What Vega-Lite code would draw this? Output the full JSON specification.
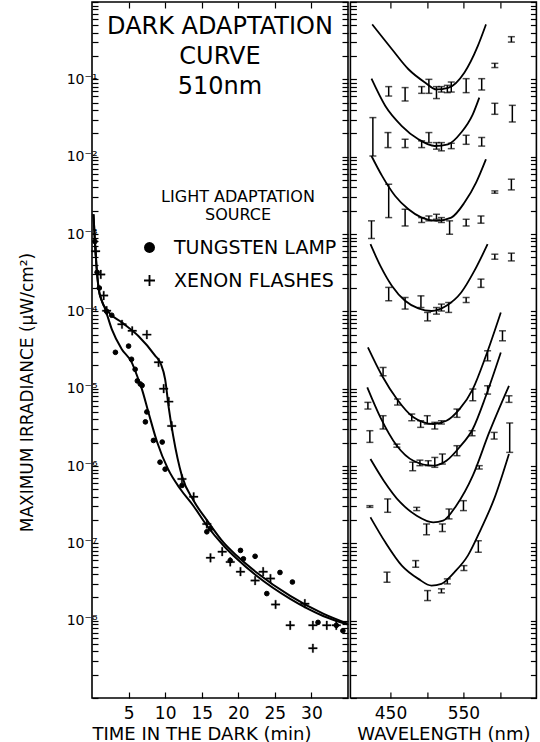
{
  "$schema": "https://vega.github.io/schema/vega-lite/v6.json",
  "background": "white",
  "padding": {"left": 17, "top": 0, "right": 0, "bottom": 0},
  "spacing": -1.6,
  "config": {
    "font": "DejaVu Sans",
    "view": {"stroke": "black", "strokeWidth": 1.6},
    "axis": {"domain": false, "grid": false, "tickColor": "black", "tickWidth": 1.2, "tickSize": -6, "labelColor": "black", "titleColor": "black", "labelFont": "DejaVu Sans", "titleFont": "DejaVu Sans", "titleFontWeight": "normal", "minExtent": 0}
  },
  "datasets": {
    "darkCurves": [
      {"series": "tungsten", "t": 0.2, "v": 1.8e-3}, {"series": "tungsten", "t": 0.4, "v": 8e-4}, {"series": "tungsten", "t": 0.6, "v": 4e-4}, {"series": "tungsten", "t": 0.9, "v": 2e-4}, {"series": "tungsten", "t": 1.3, "v": 1.4e-4}, {"series": "tungsten", "t": 1.8, "v": 1.07e-4}, {"series": "tungsten", "t": 2.7, "v": 5.9e-5}, {"series": "tungsten", "t": 4.07, "v": 3.24e-5}, {"series": "tungsten", "t": 5.43, "v": 2.19e-5}, {"series": "tungsten", "t": 6.34, "v": 1.32e-5}, {"series": "tungsten", "t": 6.8, "v": 1.0e-5}, {"series": "tungsten", "t": 7.7, "v": 5.0e-6}, {"series": "tungsten", "t": 8.9, "v": 2.04e-6}, {"series": "tungsten", "t": 10.4, "v": 9.1e-7}, {"series": "tungsten", "t": 12.1, "v": 5.0e-7}, {"series": "tungsten", "t": 13.9, "v": 3.02e-7}, {"series": "tungsten", "t": 15.7, "v": 1.7e-7}, {"series": "tungsten", "t": 18.0, "v": 9.3e-8}, {"series": "tungsten", "t": 19.8, "v": 6.3e-8}, {"series": "tungsten", "t": 22.5, "v": 3.8e-8}, {"series": "tungsten", "t": 27.1, "v": 1.91e-8}, {"series": "tungsten", "t": 31.6, "v": 1.15e-8}, {"series": "tungsten", "t": 35, "v": 8.9e-9},
      {"series": "xenon", "t": 0.2, "v": 1.8e-3}, {"series": "xenon", "t": 0.4, "v": 8e-4}, {"series": "xenon", "t": 0.6, "v": 4e-4}, {"series": "xenon", "t": 0.9, "v": 2e-4}, {"series": "xenon", "t": 1.3, "v": 1.4e-4}, {"series": "xenon", "t": 2.25, "v": 9.8e-5}, {"series": "xenon", "t": 4.07, "v": 7.2e-5}, {"series": "xenon", "t": 6.34, "v": 4.8e-5}, {"series": "xenon", "t": 8.6, "v": 2.7e-5}, {"series": "xenon", "t": 9.4, "v": 2.1e-5}, {"series": "xenon", "t": 10.0, "v": 1.32e-5}, {"series": "xenon", "t": 10.5, "v": 5.6e-6}, {"series": "xenon", "t": 11.1, "v": 2.45e-6}, {"series": "xenon", "t": 12.3, "v": 7.4e-7}, {"series": "xenon", "t": 13.9, "v": 3.55e-7}, {"series": "xenon", "t": 15.7, "v": 2.0e-7}, {"series": "xenon", "t": 18.0, "v": 1.02e-7}, {"series": "xenon", "t": 19.8, "v": 6.9e-8}, {"series": "xenon", "t": 22.5, "v": 4.2e-8}, {"series": "xenon", "t": 27.1, "v": 2.09e-8}, {"series": "xenon", "t": 31.6, "v": 1.23e-8}, {"series": "xenon", "t": 35, "v": 9.1e-9}
    ],
    "darkPoints": [
      {"source": "TUNGSTEN LAMP", "t": 0.4, "v": 8e-4}, {"source": "TUNGSTEN LAMP", "t": 0.7, "v": 3.2e-4}, {"source": "TUNGSTEN LAMP", "t": 1.0, "v": 2.0e-4}, {"source": "TUNGSTEN LAMP", "t": 2.0, "v": 1.0e-4}, {"source": "TUNGSTEN LAMP", "t": 2.7, "v": 8.9e-5}, {"source": "TUNGSTEN LAMP", "t": 3.2, "v": 2.95e-5}, {"source": "TUNGSTEN LAMP", "t": 5.0, "v": 3.55e-5}, {"source": "TUNGSTEN LAMP", "t": 5.4, "v": 2.4e-5}, {"source": "TUNGSTEN LAMP", "t": 5.9, "v": 1.78e-5}, {"source": "TUNGSTEN LAMP", "t": 6.2, "v": 1.26e-5}, {"source": "TUNGSTEN LAMP", "t": 6.6, "v": 1.15e-5}, {"source": "TUNGSTEN LAMP", "t": 6.85, "v": 1.1e-5}, {"source": "TUNGSTEN LAMP", "t": 7.5, "v": 5.0e-6}, {"source": "TUNGSTEN LAMP", "t": 7.3, "v": 3.72e-6}, {"source": "TUNGSTEN LAMP", "t": 8.4, "v": 2.14e-6}, {"source": "TUNGSTEN LAMP", "t": 9.6, "v": 2.04e-6}, {"source": "TUNGSTEN LAMP", "t": 9.3, "v": 1.12e-6}, {"source": "TUNGSTEN LAMP", "t": 10.0, "v": 9.1e-7}, {"source": "TUNGSTEN LAMP", "t": 12.3, "v": 5.6e-7}, {"source": "TUNGSTEN LAMP", "t": 15.7, "v": 1.41e-7}, {"source": "TUNGSTEN LAMP", "t": 16.2, "v": 1.55e-7}, {"source": "TUNGSTEN LAMP", "t": 18.9, "v": 6.0e-8}, {"source": "TUNGSTEN LAMP", "t": 20.3, "v": 8.1e-8}, {"source": "TUNGSTEN LAMP", "t": 20.7, "v": 6.3e-8}, {"source": "TUNGSTEN LAMP", "t": 22.3, "v": 6.8e-8}, {"source": "TUNGSTEN LAMP", "t": 23.9, "v": 2.24e-8}, {"source": "TUNGSTEN LAMP", "t": 25.7, "v": 4.2e-8}, {"source": "TUNGSTEN LAMP", "t": 27.4, "v": 3.16e-8}, {"source": "TUNGSTEN LAMP", "t": 30.9, "v": 9.5e-9}, {"source": "TUNGSTEN LAMP", "t": 33.4, "v": 8.7e-9}, {"source": "TUNGSTEN LAMP", "t": 34.3, "v": 7.4e-9},
      {"source": "XENON FLASHES", "t": 0.5, "v": 6e-4}, {"source": "XENON FLASHES", "t": 1.2, "v": 3.0e-4}, {"source": "XENON FLASHES", "t": 1.6, "v": 1.6e-4}, {"source": "XENON FLASHES", "t": 2.0, "v": 1.02e-4}, {"source": "XENON FLASHES", "t": 4.1, "v": 6.8e-5}, {"source": "XENON FLASHES", "t": 5.5, "v": 5.6e-5}, {"source": "XENON FLASHES", "t": 7.5, "v": 5.0e-5}, {"source": "XENON FLASHES", "t": 9.1, "v": 2.19e-5}, {"source": "XENON FLASHES", "t": 9.8, "v": 1.0e-5}, {"source": "XENON FLASHES", "t": 10.5, "v": 6.8e-6}, {"source": "XENON FLASHES", "t": 10.9, "v": 3.3e-6}, {"source": "XENON FLASHES", "t": 12.3, "v": 6.8e-7}, {"source": "XENON FLASHES", "t": 13.9, "v": 4.0e-7}, {"source": "XENON FLASHES", "t": 15.7, "v": 1.78e-7}, {"source": "XENON FLASHES", "t": 16.2, "v": 6.5e-8}, {"source": "XENON FLASHES", "t": 17.8, "v": 7.8e-8}, {"source": "XENON FLASHES", "t": 18.9, "v": 5.75e-8}, {"source": "XENON FLASHES", "t": 20.3, "v": 4.3e-8}, {"source": "XENON FLASHES", "t": 22.3, "v": 3.3e-8}, {"source": "XENON FLASHES", "t": 23.4, "v": 4.3e-8}, {"source": "XENON FLASHES", "t": 24.4, "v": 3.5e-8}, {"source": "XENON FLASHES", "t": 25.1, "v": 1.62e-8}, {"source": "XENON FLASHES", "t": 29.1, "v": 1.66e-8}, {"source": "XENON FLASHES", "t": 27.1, "v": 8.7e-9}, {"source": "XENON FLASHES", "t": 30.2, "v": 8.7e-9}, {"source": "XENON FLASHES", "t": 32.1, "v": 8.7e-9}, {"source": "XENON FLASHES", "t": 33.4, "v": 8.7e-9}, {"source": "XENON FLASHES", "t": 30.2, "v": 4.4e-9}
    ],
    "spectra": [
      {"curve": 1, "lam": 424.9, "v": 0.513}, {"curve": 1, "lam": 452.0, "v": 0.245}, {"curve": 1, "lam": 474.6, "v": 0.135}, {"curve": 1, "lam": 497.2, "v": 0.0912}, {"curve": 1, "lam": 513.0, "v": 0.0741}, {"curve": 1, "lam": 528.9, "v": 0.0776}, {"curve": 1, "lam": 551.4, "v": 0.123}, {"curve": 1, "lam": 569.6, "v": 0.269}, {"curve": 1, "lam": 580.9, "v": 0.513},
      {"curve": 2, "lam": 423.9, "v": 0.102}, {"curve": 2, "lam": 442.9, "v": 0.0452}, {"curve": 2, "lam": 465.5, "v": 0.0249}, {"curve": 2, "lam": 488.2, "v": 0.0168}, {"curve": 2, "lam": 510.7, "v": 0.01374}, {"curve": 2, "lam": 528.9, "v": 0.01445}, {"curve": 2, "lam": 546.9, "v": 0.0205}, {"curve": 2, "lam": 562.8, "v": 0.0353}, {"curve": 2, "lam": 571.7, "v": 0.0581},
      {"curve": 3, "lam": 423.9, "v": 0.0102}, {"curve": 3, "lam": 438.4, "v": 0.00564}, {"curve": 3, "lam": 456.4, "v": 0.0031}, {"curve": 3, "lam": 474.6, "v": 0.00209}, {"curve": 3, "lam": 492.7, "v": 0.00163}, {"curve": 3, "lam": 513.0, "v": 0.00148}, {"curve": 3, "lam": 533.3, "v": 0.00163}, {"curve": 3, "lam": 551.4, "v": 0.00255}, {"curve": 3, "lam": 567.3, "v": 0.00462}, {"curve": 3, "lam": 580.8, "v": 0.00925},
      {"curve": 4, "lam": 422.5, "v": 7.38e-4}, {"curve": 4, "lam": 436.1, "v": 3.87e-4}, {"curve": 4, "lam": 452.0, "v": 2.13e-4}, {"curve": 4, "lam": 470.0, "v": 1.37e-4}, {"curve": 4, "lam": 488.2, "v": 1.09e-4}, {"curve": 4, "lam": 506.2, "v": 1.01e-4}, {"curve": 4, "lam": 526.6, "v": 1.18e-4}, {"curve": 4, "lam": 546.9, "v": 1.75e-4}, {"curve": 4, "lam": 564.9, "v": 3.33e-4}, {"curve": 4, "lam": 583.1, "v": 7.38e-4},
      {"curve": 5, "lam": 419.0, "v": 3.42e-5}, {"curve": 5, "lam": 438.4, "v": 1.47e-5}, {"curve": 5, "lam": 458.7, "v": 7.35e-6}, {"curve": 5, "lam": 481.4, "v": 4.26e-6}, {"curve": 5, "lam": 508.5, "v": 3.49e-6}, {"curve": 5, "lam": 526.6, "v": 3.85e-6}, {"curve": 5, "lam": 544.6, "v": 5.45e-6}, {"curve": 5, "lam": 562.8, "v": 9.89e-6}, {"curve": 5, "lam": 580.8, "v": 2.66e-5}, {"curve": 5, "lam": 601.2, "v": 9.68e-5},
      {"curve": 6, "lam": 418.1, "v": 1.04e-5}, {"curve": 6, "lam": 436.1, "v": 4.26e-6}, {"curve": 6, "lam": 458.7, "v": 1.83e-6}, {"curve": 6, "lam": 481.4, "v": 1.17e-6}, {"curve": 6, "lam": 508.5, "v": 1.01e-6}, {"curve": 6, "lam": 526.6, "v": 1.17e-6}, {"curve": 6, "lam": 544.6, "v": 1.75e-6}, {"curve": 6, "lam": 562.8, "v": 3.01e-6}, {"curve": 6, "lam": 580.8, "v": 8.09e-6}, {"curve": 6, "lam": 601.2, "v": 2.94e-5},
      {"curve": 7, "lam": 422.5, "v": 1.23e-6}, {"curve": 7, "lam": 440.7, "v": 6.46e-7}, {"curve": 7, "lam": 463.2, "v": 3.4e-7}, {"curve": 7, "lam": 485.9, "v": 2.28e-7}, {"curve": 7, "lam": 508.5, "v": 1.87e-7}, {"curve": 7, "lam": 522.1, "v": 1.96e-7}, {"curve": 7, "lam": 540.1, "v": 3.07e-7}, {"curve": 7, "lam": 562.8, "v": 7.5e-7}, {"curve": 7, "lam": 585.3, "v": 2.72e-6}, {"curve": 7, "lam": 612.4, "v": 1.09e-5},
      {"curve": 8, "lam": 422.5, "v": 2.17e-7}, {"curve": 8, "lam": 442.9, "v": 1.03e-7}, {"curve": 8, "lam": 465.5, "v": 5.15e-8}, {"curve": 8, "lam": 488.2, "v": 3.47e-8}, {"curve": 8, "lam": 506.2, "v": 2.84e-8}, {"curve": 8, "lam": 519.8, "v": 2.99e-8}, {"curve": 8, "lam": 537.8, "v": 4.24e-8}, {"curve": 8, "lam": 556.0, "v": 6.93e-8}, {"curve": 8, "lam": 574.0, "v": 1.53e-7}, {"curve": 8, "lam": 592.1, "v": 3.75e-7}, {"curve": 8, "lam": 612.4, "v": 1.43e-6}
    ],
    "bars": [
      {"lam": 615.7, "hi": 0.356, "lo": 0.303}, {"lam": 593.0, "hi": 0.161, "lo": 0.142}, {"lam": 447.5, "hi": 0.0805, "lo": 0.0608}, {"lam": 470.0, "hi": 0.0782, "lo": 0.0525}, {"lam": 492.7, "hi": 0.0805, "lo": 0.0659}, {"lam": 502.6, "hi": 0.1, "lo": 0.0659}, {"lam": 513.0, "hi": 0.0805, "lo": 0.0564}, {"lam": 519.8, "hi": 0.0805, "lo": 0.0685}, {"lam": 527.9, "hi": 0.0836, "lo": 0.0673}, {"lam": 533.3, "hi": 0.0923, "lo": 0.0685}, {"lam": 553.7, "hi": 0.102, "lo": 0.0673}, {"lam": 575.0, "hi": 0.102, "lo": 0.0728},
      {"lam": 446.5, "hi": 0.0205, "lo": 0.0131}, {"lam": 470.0, "hi": 0.0168, "lo": 0.0131}, {"lam": 492.7, "hi": 0.016, "lo": 0.0131}, {"lam": 502.6, "hi": 0.0205, "lo": 0.0152}, {"lam": 513.0, "hi": 0.0152, "lo": 0.0125}, {"lam": 519.8, "hi": 0.0152, "lo": 0.0119}, {"lam": 533.3, "hi": 0.0149, "lo": 0.0127}, {"lam": 553.7, "hi": 0.0189, "lo": 0.01445}, {"lam": 575.0, "hi": 0.0177, "lo": 0.0137}, {"lam": 425.8, "hi": 0.032, "lo": 0.0102}, {"lam": 593.0, "hi": 0.049, "lo": 0.0353}, {"lam": 617.0, "hi": 0.0461, "lo": 0.0281},
      {"lam": 447.5, "hi": 0.0044, "lo": 0.00163}, {"lam": 470.0, "hi": 0.00209, "lo": 0.00127}, {"lam": 492.7, "hi": 0.00163, "lo": 0.00141}, {"lam": 502.6, "hi": 0.00171, "lo": 0.00148}, {"lam": 513.0, "hi": 0.0018, "lo": 0.00155}, {"lam": 519.8, "hi": 0.00163, "lo": 0.00141}, {"lam": 531.0, "hi": 0.00148, "lo": 0.000993}, {"lam": 553.7, "hi": 0.00155, "lo": 0.00127}, {"lam": 574.0, "hi": 0.00171, "lo": 0.00138}, {"lam": 423.9, "hi": 0.00148, "lo": 0.000875}, {"lam": 593.0, "hi": 0.00361, "lo": 0.00337}, {"lam": 615.7, "hi": 0.00511, "lo": 0.00372},
      {"lam": 447.5, "hi": 2.04e-4, "lo": 1.37e-4}, {"lam": 470.0, "hi": 1.51e-4, "lo": 1.07e-4}, {"lam": 491.7, "hi": 1.585e-4, "lo": 1.12e-4}, {"lam": 500.8, "hi": 9.68e-5, "lo": 7.53e-5}, {"lam": 513.0, "hi": 1.12e-4, "lo": 9.2e-5}, {"lam": 519.8, "hi": 1.24e-4, "lo": 1.01e-4}, {"lam": 529.7, "hi": 1.3e-4, "lo": 9.68e-5}, {"lam": 553.7, "hi": 1.51e-4, "lo": 1.3e-4}, {"lam": 574.0, "hi": 2.61e-4, "lo": 2.04e-4}, {"lam": 593.0, "hi": 5.48e-4, "lo": 4.72e-4}, {"lam": 615.7, "hi": 5.65e-4, "lo": 4.49e-4},
      {"lam": 439.8, "hi": 1.88e-5, "lo": 1.47e-5}, {"lam": 459.7, "hi": 7.35e-6, "lo": 6.14e-6}, {"lam": 479.1, "hi": 4.7e-6, "lo": 3.85e-6}, {"lam": 491.3, "hi": 3.85e-6, "lo": 3.16e-6}, {"lam": 500.4, "hi": 4.47e-6, "lo": 3.49e-6}, {"lam": 510.7, "hi": 3.67e-6, "lo": 3.01e-6}, {"lam": 519.8, "hi": 3.85e-6, "lo": 3.49e-6}, {"lam": 541.1, "hi": 5.45e-6, "lo": 4.26e-6}, {"lam": 562.8, "hi": 9.89e-6, "lo": 6.98e-6}, {"lam": 583.1, "hi": 3.09e-5, "lo": 2.29e-5}, {"lam": 603.5, "hi": 5.6e-5, "lo": 4.16e-5},
      {"lam": 419.0, "hi": 6.65e-6, "lo": 5.45e-6}, {"lam": 439.8, "hi": 4.47e-6, "lo": 3.01e-6}, {"lam": 458.7, "hi": 1.92e-6, "lo": 1.75e-6}, {"lam": 480.4, "hi": 1.12e-6, "lo": 8.69e-7}, {"lam": 490.3, "hi": 1.19e-6, "lo": 1.01e-6}, {"lam": 501.7, "hi": 1.17e-6, "lo": 1.01e-6}, {"lam": 510.7, "hi": 1.29e-6, "lo": 9.62e-7}, {"lam": 521.1, "hi": 1.43e-6, "lo": 1.06e-6}, {"lam": 541.1, "hi": 1.83e-6, "lo": 1.36e-6}, {"lam": 561.8, "hi": 2.86e-6, "lo": 2.46e-6}, {"lam": 583.1, "hi": 1.09e-5, "lo": 8.51e-6}, {"lam": 421.7, "hi": 2.86e-6, "lo": 2.02e-6},
      {"lam": 421.7, "hi": 3.07e-7, "lo": 2.92e-7}, {"lam": 446.1, "hi": 3.75e-7, "lo": 2.52e-7}, {"lam": 485.9, "hi": 2.92e-7, "lo": 2.65e-7}, {"lam": 499.4, "hi": 1.78e-7, "lo": 1.29e-7}, {"lam": 521.1, "hi": 1.78e-7, "lo": 1.42e-7}, {"lam": 530.2, "hi": 2.78e-7, "lo": 2.07e-7}, {"lam": 550.0, "hi": 3.56e-7, "lo": 2.65e-7}, {"lam": 571.7, "hi": 1.01e-6, "lo": 9.14e-7}, {"lam": 592.1, "hi": 2.72e-6, "lo": 2.23e-6}, {"lam": 612.4, "hi": 8.09e-6, "lo": 6.65e-6}, {"lam": 613.4, "hi": 3.6e-6, "lo": 1.5e-6},
      {"lam": 445.2, "hi": 4.24e-8, "lo": 3.14e-8}, {"lam": 484.5, "hi": 5.98e-8, "lo": 4.91e-8}, {"lam": 500.8, "hi": 2.45e-8, "lo": 1.82e-8}, {"lam": 519.8, "hi": 2.58e-8, "lo": 2.29e-8}, {"lam": 527.9, "hi": 3.47e-8, "lo": 2.99e-8}, {"lam": 550.6, "hi": 5.15e-8, "lo": 4.45e-8}, {"lam": 570.4, "hi": 1.08e-7, "lo": 7.67e-8}
    ]
  },
  "hconcat": [
    {
      "width": 256,
      "height": 696,
      "layer": [
        {
          "data": {"name": "darkCurves"},
          "mark": {"type": "line", "color": "black", "strokeWidth": 2, "interpolate": "monotone", "clip": true},
          "encoding": {
            "x": {"field": "t", "type": "quantitative", "scale": {"domain": [0, 35], "nice": false, "zero": false},
                  "axis": {"orient": "bottom", "values": [5, 10, 15, 20, 25, 30], "labelFontSize": 17, "labelPadding": 13, "title": "TIME IN THE DARK (min)", "titleFontSize": 18, "titleAnchor": "start", "titlePadding": 4}},
            "y": {"field": "v", "type": "quantitative", "scale": {"type": "log", "domain": [1e-9, 1], "nice": false},
                  "axis": {"orient": "left", "tickCount": 100, "labelOverlap": false, "labelFlush": false, "labelPadding": 1,
                           "labelFontSize": {"condition": {"test": "abs(log(datum.value)/LN10 - round(log(datum.value)/LN10)) < 0.01 && datum.value < 0.5 && datum.value > 5e-9", "value": 14}, "value": 0},
                           "labelExpr": "(abs(log(datum.value)/LN10 - round(log(datum.value)/LN10)) < 0.01 && datum.value < 0.5 && datum.value > 5e-9) ? '10⁻' + substring('⁰¹²³⁴⁵⁶⁷⁸⁹', -round(log(datum.value)/LN10), 1 - round(log(datum.value)/LN10)) : ''",
                           "title": "MAXIMUM IRRADIANCE (μW/cm²)", "titleFontSize": 17, "titlePadding": 30, "titleY": 390}},
            "detail": {"field": "series", "type": "nominal"}
          }
        },
        {
          "data": {"name": "darkPoints"},
          "transform": [{"filter": "datum.source === 'TUNGSTEN LAMP'"}],
          "mark": {"type": "point", "filled": true, "color": "black", "stroke": "black", "strokeWidth": 1, "opacity": 1, "size": 22},
          "encoding": {
            "x": {"field": "t", "type": "quantitative", "axis": {"orient": "top", "values": [5, 10, 15, 20, 25, 30], "labels": false, "title": null}},
            "y": {"field": "v", "type": "quantitative", "axis": {"orient": "right", "tickCount": 100, "labels": false, "title": null}},
            "shape": {"field": "source", "type": "nominal",
                      "scale": {"domain": ["TUNGSTEN LAMP", "XENON FLASHES"], "range": ["circle", "M-1,-0.17L-0.17,-0.17L-0.17,-1L0.17,-1L0.17,-0.17L1,-0.17L1,0.17L0.17,0.17L0.17,1L-0.17,1L-0.17,0.17L-1,0.17Z"]},
                      "legend": {"orient": "none", "legendX": 48, "legendY": 187, "title": ["LIGHT ADAPTATION", "SOURCE"], "titleFontSize": 16, "titleFont": "DejaVu Sans", "titleFontWeight": "normal", "titleAlign": "center", "titleAnchor": "middle", "titleLineHeight": 18, "titlePadding": 15, "titleColor": "black", "labelFontSize": 19, "labelFont": "DejaVu Sans", "labelColor": "black", "labelOffset": 15, "labelLimit": 400, "symbolSize": 120, "symbolStrokeWidth": 0.4, "symbolFillColor": "black", "symbolStrokeColor": "black", "symbolOpacity": 1, "rowPadding": 13}}
          }
        },
        {
          "data": {"name": "darkPoints"},
          "transform": [{"filter": "datum.source === 'XENON FLASHES'"}],
          "mark": {"type": "point", "filled": true, "color": "black", "stroke": "black", "strokeWidth": 0.3, "opacity": 1, "size": 75},
          "encoding": {
            "x": {"field": "t", "type": "quantitative", "axis": null},
            "y": {"field": "v", "type": "quantitative", "axis": null},
            "shape": {"field": "source", "type": "nominal"}
          }
        },
        {
          "data": {"values": [{}]},
          "mark": {"type": "text", "text": ["DARK ADAPTATION", "CURVE", "510nm"], "fontSize": 24, "lineHeight": 30, "align": "center", "baseline": "top", "color": "black"},
          "encoding": {
            "x": {"datum": 17.5, "type": "quantitative", "axis": null},
            "y": {"datum": 0.68, "type": "quantitative", "axis": null}
          }
        }
      ],
      "resolve": {"axis": {"x": "independent", "y": "independent"}}
    },
    {
      "width": 186,
      "height": 696,
      "layer": [
        {
          "data": {"name": "spectra"},
          "mark": {"type": "line", "color": "black", "strokeWidth": 1.8, "interpolate": "monotone", "clip": true},
          "encoding": {
            "x": {"field": "lam", "type": "quantitative", "scale": {"domain": [395, 650], "nice": false, "zero": false},
                  "axis": {"orient": "bottom", "values": [450, 500, 550, 600], "labelExpr": "datum.value == 450 || datum.value == 550 ? datum.label : ''", "labelFontSize": 17, "labelPadding": 13, "title": "WAVELENGTH (nm)", "titleFontSize": 18, "titlePadding": 4}},
            "y": {"field": "v", "type": "quantitative", "scale": {"type": "log", "domain": [1e-9, 1], "nice": false},
                  "axis": {"orient": "left", "tickCount": 100, "labels": false, "title": null}},
            "detail": {"field": "curve", "type": "nominal"}
          }
        },
        {
          "data": {"name": "bars"},
          "mark": {"type": "rule", "color": "black", "strokeWidth": 1.5},
          "encoding": {
            "x": {"field": "lam", "type": "quantitative", "axis": {"orient": "top", "values": [450, 500, 550, 600], "labels": false, "title": null}},
            "y": {"field": "hi", "type": "quantitative", "axis": {"orient": "right", "tickCount": 100, "labels": false, "title": null}},
            "y2": {"field": "lo"}
          }
        },
        {
          "data": {"name": "bars"},
          "transform": [{"fold": ["hi", "lo"], "as": ["end", "val"]}],
          "mark": {"type": "tick", "orient": "horizontal", "color": "black", "size": 7, "thickness": 1.5},
          "encoding": {
            "x": {"field": "lam", "type": "quantitative", "axis": null},
            "y": {"field": "val", "type": "quantitative", "axis": null}
          }
        }
      ],
      "resolve": {"axis": {"x": "independent", "y": "independent"}}
    }
  ]
}
